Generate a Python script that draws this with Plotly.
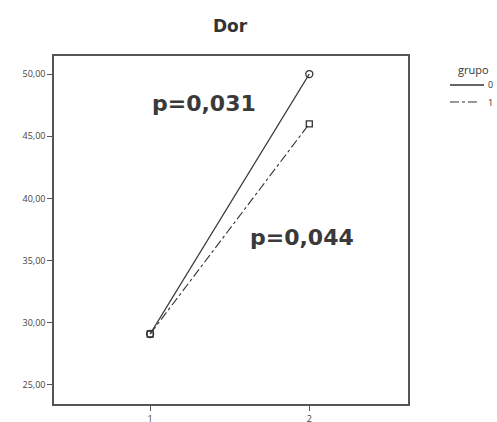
import plotly.graph_objects as go

x_vals = [1, 2]
grupo0 = [29.1, 50.0]
grupo1 = [29.1, 46.0]
tick_vals = [25, 30, 35, 40, 45, 50]
tick_text = ["25,00", "30,00", "35,00", "40,00", "45,00", "50,00"]
legend_title = "grupo"
legend_names = ["0", "1"]

fig = go.Figure()
fig.add_trace(go.Scatter(x=x_vals, y=grupo0, name=legend_names[0], mode="lines+markers", showlegend=False,
                         line=dict(color="#333333", width=1.3),
                         marker=dict(symbol="circle-open", size=7, color="#333333", line=dict(width=1.3))))
fig.add_trace(go.Scatter(x=x_vals, y=grupo1, name=legend_names[1], mode="lines+markers", showlegend=False,
                         line=dict(color="#333333", width=1.1, dash="dashdot"),
                         marker=dict(symbol="square-open", size=6, color="#333333", line=dict(width=1.3))))

fig.add_annotation(x=1.34, y=47.66, text="<b>p=0,031</b>", showarrow=False,
                   font=dict(family="DejaVu Sans", size=22, color="#3a3a3a"))
fig.add_annotation(x=1.956, y=36.85, text="<b>p=0,044</b>", showarrow=False,
                   font=dict(family="DejaVu Sans", size=22, color="#3a3a3a"))

# hand-drawn legend (SPSS style: short line samples, labels to the right)
fig.add_annotation(xref="paper", yref="paper", x=1.1864, y=0.9598, text=legend_title,
                   showarrow=False, xanchor="center", yanchor="middle",
                   font=dict(size=11, color="#333333"))
fig.add_shape(type="line", xref="paper", yref="paper", x0=1.1186, x1=1.2147, y0=0.9167, y1=0.9167,
              line=dict(color="#333333", width=1.3))
fig.add_shape(type="line", xref="paper", yref="paper", x0=1.1186, x1=1.2, y0=0.8678, y1=0.8678,
              line=dict(color="#333333", width=1.1, dash="dashdot"))
fig.add_annotation(xref="paper", yref="paper", x=1.2203, y=0.9167, text=legend_names[0],
                   showarrow=False, xanchor="left", yanchor="middle",
                   font=dict(size=9, color="#333333"))
fig.add_annotation(xref="paper", yref="paper", x=1.2203, y=0.8678, text=legend_names[1],
                   showarrow=False, xanchor="left", yanchor="middle",
                   font=dict(size=9, color="#333333"))

fig.update_layout(
    width=497, height=422,
    margin=dict(l=54, r=89, t=56, b=18, autoexpand=False),
    paper_bgcolor="white", plot_bgcolor="white",
    title=dict(text="<b>Dor</b>", x=0.4628, xanchor="center", y=0.9384, yanchor="middle",
               font=dict(family="DejaVu Sans", size=17, color="#333333")),
    separators=",.",
    showlegend=False,
    xaxis=dict(range=[0.396, 2.62], tickvals=[1, 2], ticktext=["1", "2"],
               showgrid=False, zeroline=False, showline=True, mirror=True, automargin=False,
               linecolor="#555555", linewidth=1.5, ticks="outside", ticklen=5,
               tickcolor="#555555", tickfont=dict(size=9, color="#444444")),
    yaxis=dict(range=[23.47, 51.45], tickvals=tick_vals, ticktext=tick_text,
               showgrid=False, zeroline=False, showline=True, mirror=True, automargin=False,
               linecolor="#555555", linewidth=1.5, ticks="outside", ticklen=5,
               tickcolor="#555555", tickfont=dict(size=9, color="#444444")),
)

fig.write_html("out.html", config={"displayModeBar": False},
               post_script="document.body.style.margin='0';document.body.style.overflow='hidden';")
